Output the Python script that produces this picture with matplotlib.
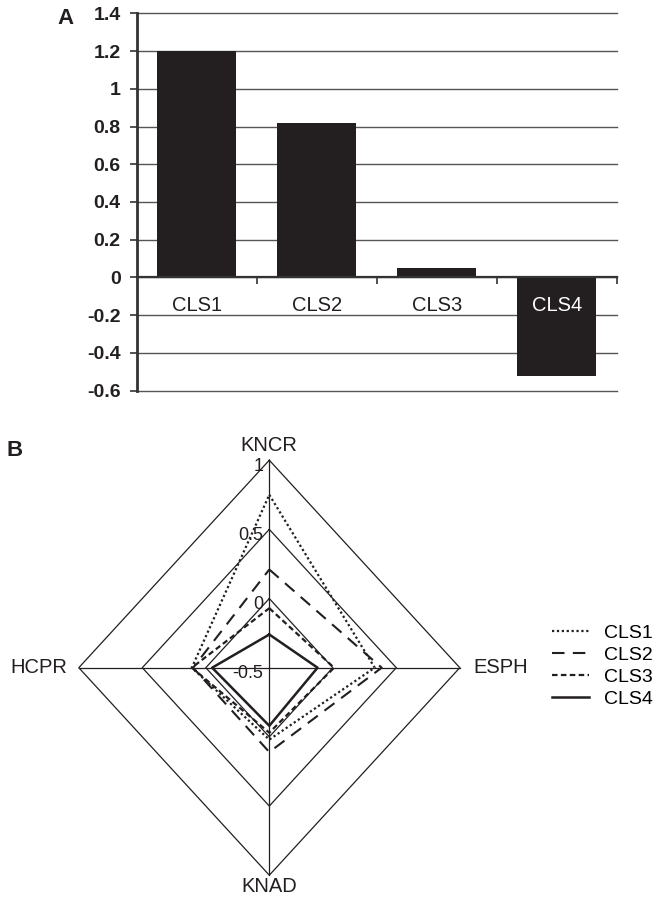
import numpy as np
import matplotlib
matplotlib.use("Agg")
import matplotlib.pyplot as plt
from matplotlib.lines import Line2D

plt.rcParams['font.family'] = ['Liberation Sans', 'DejaVu Sans']

# ---- Data ----
bar_categories = ["CLS1", "CLS2", "CLS3", "CLS4"]
bar_values = [1.20, 0.82, 0.05, -0.52]
bar_yticks = [1.4, 1.2, 1.0, 0.8, 0.6, 0.4, 0.2, 0.0, -0.2, -0.4, -0.6]
bar_yticklabels = ["1.4", "1.2", "1", "0.8", "0.6", "0.4", "0.2", "0", "-0.2", "-0.4", "-0.6"]

radar_axes = ["KNCR", "ESPH", "KNAD", "HCPR"]
radar_series = ["CLS1", "CLS2", "CLS3", "CLS4"]
cls1 = [0.75, 0.33, 0.02, 0.11]
cls2 = [0.21, 0.385, 0.11, 0.10]
cls3 = [-0.07, 0.01, -0.03, 0.11]
cls4 = [-0.26, -0.12, -0.08, -0.05]
radar_rings = [-0.5, 0.0, 0.5, 1.0]
radar_ring_labels = ["-0.5", "0", "0.5", "1"]

W, H = 659, 902
fig = plt.figure(figsize=(W / 100, H / 100), dpi=100)
INK = "#231f20"

def px_axes(x0, y0, x1, y1):
    return fig.add_axes([x0 / W, 1 - y1 / H, (x1 - x0) / W, (y1 - y0) / H])

# ---- Panel A: bar chart ----
ax = px_axes(136.7, 13.3, 616.7, 390.7)
xpos = np.arange(len(bar_categories))
ax.bar(xpos, bar_values, width=0.66, color=INK, zorder=3)
ax.set_xlim(-0.5, len(bar_categories) - 0.5)
ax.set_ylim(-0.6, 1.4)
ax.set_yticks(bar_yticks)
ax.set_yticklabels(bar_yticklabels, fontsize=14, fontweight="bold", color=INK)
ax.yaxis.grid(True, color="#555555", linewidth=1.0, zorder=0)
for gl in ax.get_ygridlines():
    gl.set_clip_on(False)
ax.set_axisbelow(True)
for s in ["top", "right"]:
    ax.spines[s].set_visible(False)
ax.spines["left"].set_linewidth(2.0)
ax.spines["left"].set_color("#333333")
ax.spines["bottom"].set_position(("data", 0))
ax.spines["bottom"].set_linewidth(1.6)
ax.spines["bottom"].set_color("#333333")
ax.spines["bottom"].set_zorder(4)
ax.set_xticks(np.arange(len(bar_categories)) + 0.5)
ax.set_xticklabels([])
ax.tick_params(axis="x", direction="out", length=5, width=1.2, color="#333333")
ax.tick_params(axis="y", direction="out", length=5, width=1.2, color="#333333", pad=6.5)
for i, (c, v) in enumerate(zip(bar_categories, bar_values)):
    col = "white" if v < -0.2 else INK
    ax.text(i, -0.15, c, ha="center", va="center", fontsize=14.5, color=col, zorder=5)
fig.text(66 / W, 1 - 18 / H, "A", fontsize=16, fontweight="bold", ha="center", va="center", color=INK)

# ---- Panel B: radar ----
cx, cy = 269.3, 667.7
rx, ry = 190.5, 207.5
ax0, ay0, ax1, ay1 = 60, 440, 480, 895
rax = px_axes(ax0, ay0, ax1, ay1)
rax.set_xlim((ax0 - cx) / rx, (ax1 - cx) / rx)
rax.set_ylim(-(ay1 - cy) / ry, (cy - ay0) / ry)
rax.axis("off")

angles = np.array([0, 90, 180, 270]) * np.pi / 180.0  # clockwise from top
rmin, rmax = radar_rings[0], radar_rings[-1]

def to_xy(vals):
    r = (np.asarray(vals) - rmin) / (rmax - rmin)
    x = r * np.sin(angles)
    y = r * np.cos(angles)
    return np.append(x, x[0]), np.append(y, y[0])

# grid rings
for rv in radar_rings[1:]:
    gx, gy = to_xy([rv] * 4)
    rax.plot(gx, gy, color=INK, linewidth=0.9, zorder=1)
# spokes
for a in angles:
    rax.plot([0, np.sin(a)], [0, np.cos(a)], color=INK, linewidth=0.9, zorder=1)
# ring labels
for rv, lab in zip(radar_rings, radar_ring_labels):
    r = (rv - rmin) / (rmax - rmin)
    rax.text(-0.03, r - 0.03, lab, ha="right", va="center", fontsize=13, color=INK, zorder=2)

styles = [
    dict(linestyle=(0, (1, 1.2)), linewidth=1.6),
    dict(linestyle=(0, (6, 4)), linewidth=1.5),
    dict(linestyle=(0, (2.5, 1.5)), linewidth=1.6),
    dict(linestyle="-", linewidth=1.8),
]
handles = []
for name, vals, st in zip(radar_series, [cls1, cls2, cls3, cls4], styles):
    x, y = to_xy(vals)
    rax.plot(x, y, color=INK, zorder=3, **st)
    handles.append(Line2D([], [], color=INK, **st))

# axis labels
lab_kw = dict(fontsize=14.5, color=INK, clip_on=False)
rax.text(0, 1.07, radar_axes[0], ha="center", va="center", **lab_kw)
rax.text((473 - cx) / rx, 0, radar_axes[1], ha="left", va="center", **lab_kw)
rax.text(0, -1.055, radar_axes[2], ha="center", va="center", **lab_kw)
rax.text((67 - cx) / rx, 0, radar_axes[3], ha="right", va="center", **lab_kw)

fig.legend(handles, radar_series, loc="center left", bbox_to_anchor=(552 / W, 1 - 666 / H),
           frameon=False, fontsize=14, handlelength=1.9, handletextpad=0.75, labelspacing=0.22,
           borderaxespad=0, borderpad=0)

fig.text(15 / W, 1 - 450 / H, "B", fontsize=16, fontweight="bold", ha="center", va="center", color=INK)

fig.savefig("out.png", dpi=100)
